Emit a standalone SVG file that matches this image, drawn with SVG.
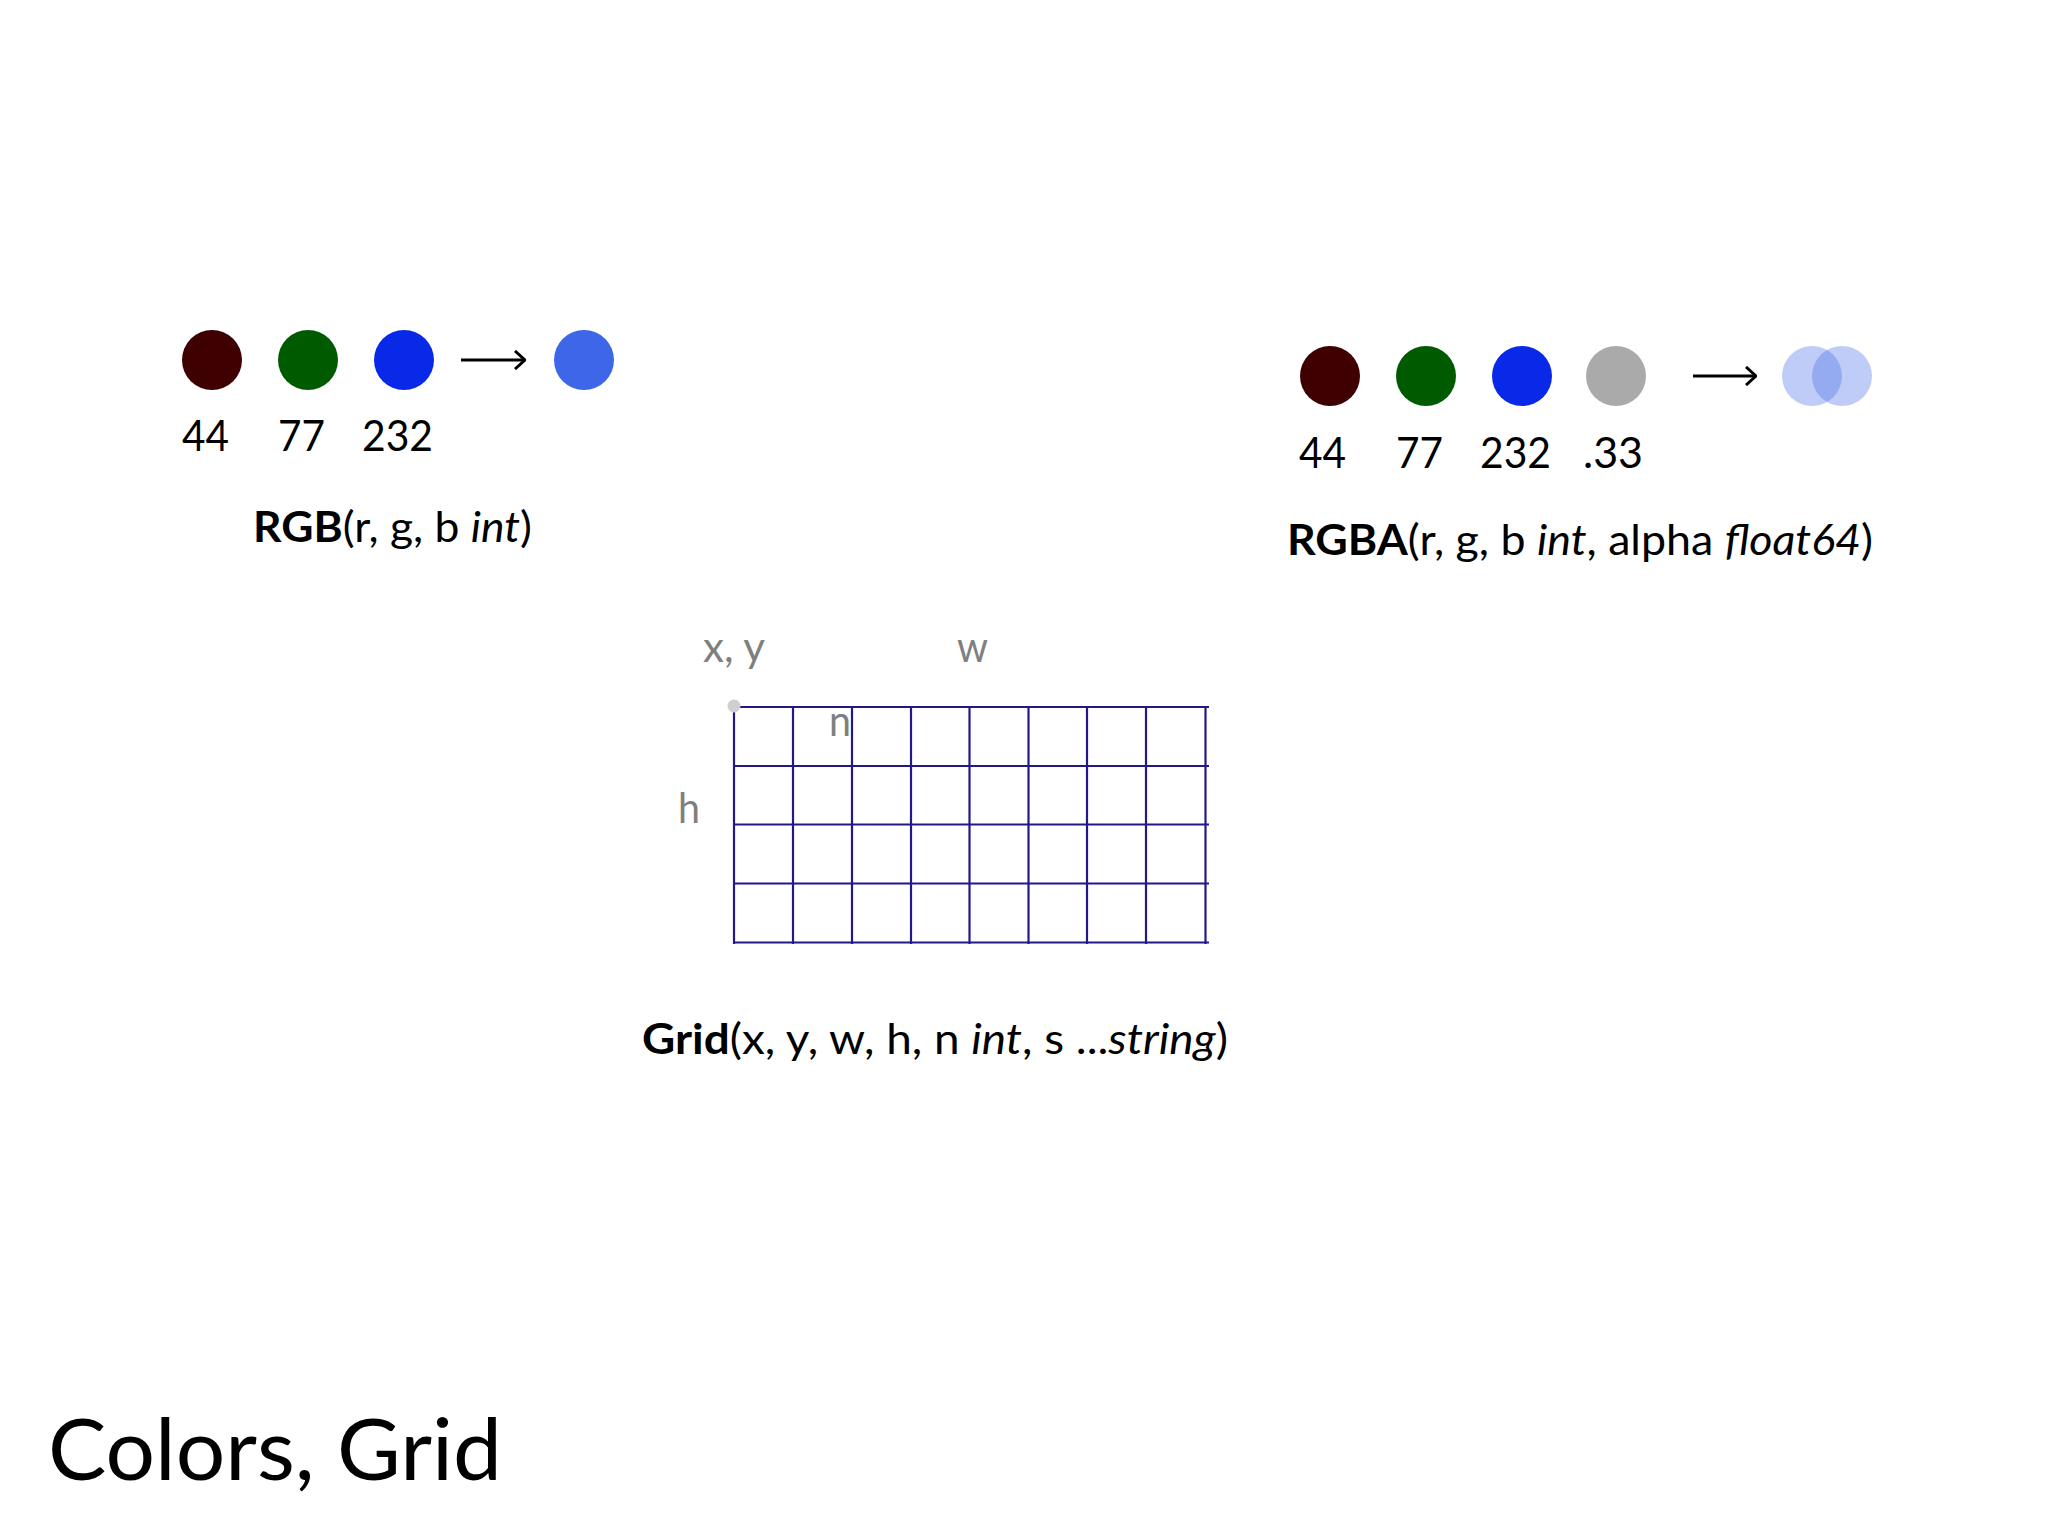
<svg xmlns="http://www.w3.org/2000/svg" width="2048" height="1536" viewBox="0 0 2048 1536">
<style>
  text { font-family: Lato, "Open Sans", sans-serif; }
  .lbl { font-size: 42px; fill: #000; }
  .num { font-size: 42px; fill: #000; }
  .gry { font-size: 42px; fill: #7f7f7f; }
  .b { font-weight: bold; }
  .i { font-style: italic; }
  .gl { stroke: #22188a; stroke-width: 2.2; }
  .arr { stroke: #000; stroke-width: 3.2; fill: none; }
</style>
<defs>
  <marker id="ah" viewBox="0 0 12 20" refX="11" refY="10" markerWidth="12" markerHeight="20" markerUnits="userSpaceOnUse" orient="auto">
    <path d="M1,1 L11,10 L1,19" fill="none" stroke="#000" stroke-width="3"/>
  </marker>
</defs>
<rect width="2048" height="1536" fill="#ffffff"/>

<g id="rgb">
  <circle cx="212" cy="360" r="30" fill="#3e0000"/>
  <circle cx="308" cy="360" r="30" fill="#005b00"/>
  <circle cx="404" cy="360" r="30" fill="#0829e8"/>
  <circle cx="584" cy="360" r="30" fill="#3d66e8"/>
  <text class="num" x="182" y="451" textLength="47" lengthAdjust="spacingAndGlyphs">44</text>
  <text class="num" x="278" y="451" textLength="47" lengthAdjust="spacingAndGlyphs">77</text>
  <text class="num" x="362" y="451" textLength="71" lengthAdjust="spacingAndGlyphs">232</text>
  <text class="lbl" x="253" y="542" textLength="279" lengthAdjust="spacingAndGlyphs"><tspan class="b">RGB</tspan>(r, g, b <tspan class="i">int</tspan>)</text>
</g>

<g id="rgba">
  <circle cx="1330" cy="376" r="30" fill="#3e0000"/>
  <circle cx="1426" cy="376" r="30" fill="#005b00"/>
  <circle cx="1522" cy="376" r="30" fill="#0829e8"/>
  <circle cx="1616" cy="376" r="30" fill="#aaaaaa"/>
  <circle cx="1812" cy="376" r="30" fill="#3d65e8" fill-opacity="0.33"/>
  <circle cx="1842" cy="376" r="30" fill="#3d65e8" fill-opacity="0.33"/>
  <text class="num" x="1299" y="468" textLength="47" lengthAdjust="spacingAndGlyphs">44</text>
  <text class="num" x="1396" y="468" textLength="47" lengthAdjust="spacingAndGlyphs">77</text>
  <text class="num" x="1480" y="468" textLength="71" lengthAdjust="spacingAndGlyphs">232</text>
  <text class="num" x="1583" y="468" textLength="60" lengthAdjust="spacingAndGlyphs">.33</text>
  <text class="lbl" x="1287" y="555" textLength="586" lengthAdjust="spacingAndGlyphs"><tspan class="b">RGBA</tspan>(r, g, b <tspan class="i">int</tspan>, alpha <tspan class="i">float64</tspan>)</text>
</g>

<g id="grid">
  <g class="gl">
    <line x1="734" y1="707" x2="1209" y2="707"/>
    <line x1="734" y1="766" x2="1209" y2="766"/>
    <line x1="734" y1="824.5" x2="1209" y2="824.5"/>
    <line x1="734" y1="883.5" x2="1209" y2="883.5"/>
    <line x1="734" y1="942.5" x2="1209" y2="942.5"/>
    <line x1="734" y1="707" x2="734" y2="944"/>
    <line x1="793" y1="707" x2="793" y2="944"/>
    <line x1="852" y1="707" x2="852" y2="944"/>
    <line x1="911" y1="707" x2="911" y2="944"/>
    <line x1="969.5" y1="707" x2="969.5" y2="944"/>
    <line x1="1028.5" y1="707" x2="1028.5" y2="944"/>
    <line x1="1087" y1="707" x2="1087" y2="944"/>
    <line x1="1146" y1="707" x2="1146" y2="944"/>
    <line x1="1205.5" y1="707" x2="1205.5" y2="944"/>
  </g>
  <circle cx="734" cy="706" r="6.5" fill="#cfcfcf"/>
  <text class="gry" x="703" y="662" textLength="62" lengthAdjust="spacingAndGlyphs">x, y</text>
  <text class="gry" x="957" y="662" textLength="31" lengthAdjust="spacingAndGlyphs">w</text>
  <text class="gry" x="678" y="823" textLength="22" lengthAdjust="spacingAndGlyphs">h</text>
  <text class="gry" x="829" y="736" textLength="22" lengthAdjust="spacingAndGlyphs">n</text>
  <text class="lbl" x="642" y="1054" textLength="586" lengthAdjust="spacingAndGlyphs"><tspan class="b">Grid</tspan>(x, y, w, h, n <tspan class="i">int</tspan>, s ...<tspan class="i">string</tspan>)</text>
</g>

<g id="connectors">
  <path class="arr" d="M461,360 L525,360" marker-end="url(#ah)"/>
  <path class="arr" d="M1693,376 L1756,376" marker-end="url(#ah)"/>
</g>

<g id="title">
  <text x="48" y="1480" font-size="86" fill="#000" textLength="454" lengthAdjust="spacingAndGlyphs">Colors, Grid</text>
</g>
</svg>
